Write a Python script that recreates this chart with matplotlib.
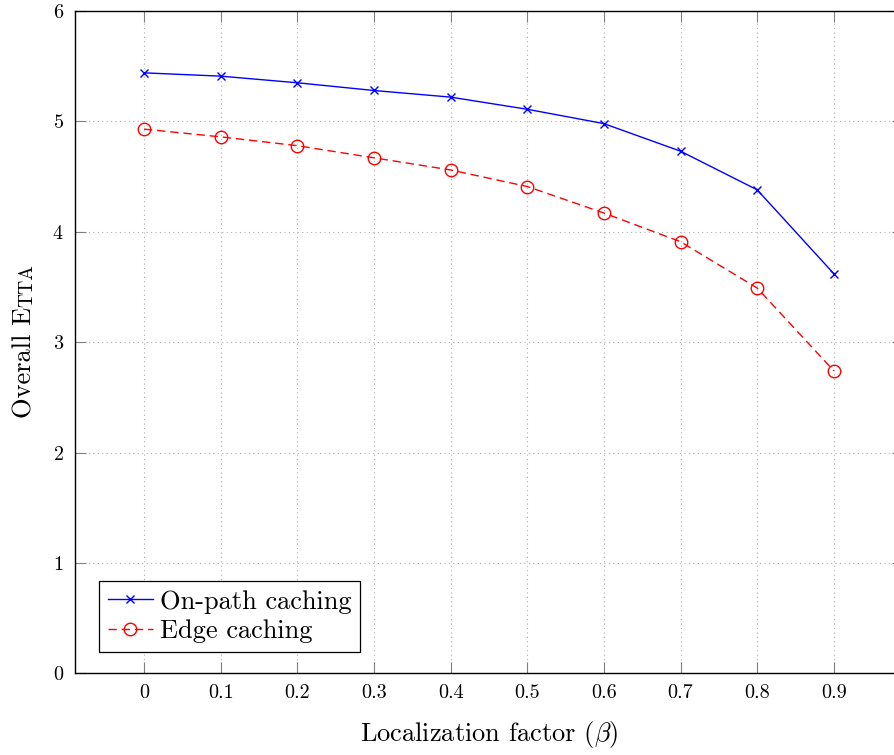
import matplotlib
matplotlib.use("Agg")
import matplotlib.pyplot as plt
import numpy as np

plt.rcParams["font.family"] = "cmr10"
plt.rcParams["mathtext.fontset"] = "cm"
plt.rcParams["axes.formatter.use_mathtext"] = True

beta = [0, 0.1, 0.2, 0.3, 0.4, 0.5, 0.6, 0.7, 0.8, 0.9]
on_path = [5.44, 5.41, 5.35, 5.28, 5.22, 5.11, 4.98, 4.73, 4.38, 3.62]
edge = [4.93, 4.86, 4.78, 4.67, 4.56, 4.41, 4.17, 3.91, 3.49, 2.74]
y_ticks = [0, 1, 2, 3, 4, 5, 6]

W, H = 894, 755
fig = plt.figure(figsize=(W / 100, H / 100), dpi=100)
# right side of the axes runs past the picture edge, like the reference crop
ax = fig.add_axes([0.0839, 0.1082, 0.926, 0.8772])

ax.plot(beta, on_path, color="blue", lw=1.0, marker="x", ms=6,
        mew=1.0, label="On-path caching")
ax.plot(beta, edge, color="red", lw=1.0, ls=(0, (6, 3.5)), marker="o", ms=9,
        mfc="none", mew=1.0, label="Edge caching")

ax.set_xlim(-0.09, 0.99)
ax.set_ylim(0, 6)
ax.set_xticks(beta)
ax.set_xticklabels([f"{b:g}" for b in beta])
ax.set_yticks(y_ticks)
ax.grid(True, ls=(0, (1, 3)), color="#b0b0b0", lw=0.8)

ax.tick_params(direction="in", length=8, width=0.8, color="#808080",
               top=True, right=True, labelsize=14.5, pad=8)
for s in ax.spines.values():
    s.set_linewidth(1.0)

ax.set_xlabel(r"Localization factor ($\beta$)", fontsize=19, labelpad=12)

leg = ax.legend(loc="lower left", bbox_to_anchor=(0.029, 0.032),
                borderaxespad=0, fontsize=19, fancybox=False,
                edgecolor="black", framealpha=1, handlelength=1.7,
                handletextpad=0.26, borderpad=0.34, labelspacing=0.22)
leg.get_frame().set_linewidth(0.9)

# y label with small caps "Etta": big E, smaller TTA, stacked upward
r = fig.canvas.get_renderer()
x_base = 32 / W
t1 = fig.text(x_base, 0.5, "Overall E", fontsize=19, rotation=90,
              rotation_mode="anchor", ha="left", va="baseline")
t2 = fig.text(x_base, 0.5, "TTA", fontsize=14, rotation=90,
              rotation_mode="anchor", ha="left", va="baseline")
w1 = t1.get_window_extent(r).height
w2 = t2.get_window_extent(r).height
start = (H - 341) - (w1 + w2) / 2
t1.set_position((x_base, start / H))
t2.set_position((x_base, (start + w1) / H))

fig.savefig("out.png", dpi=100)
